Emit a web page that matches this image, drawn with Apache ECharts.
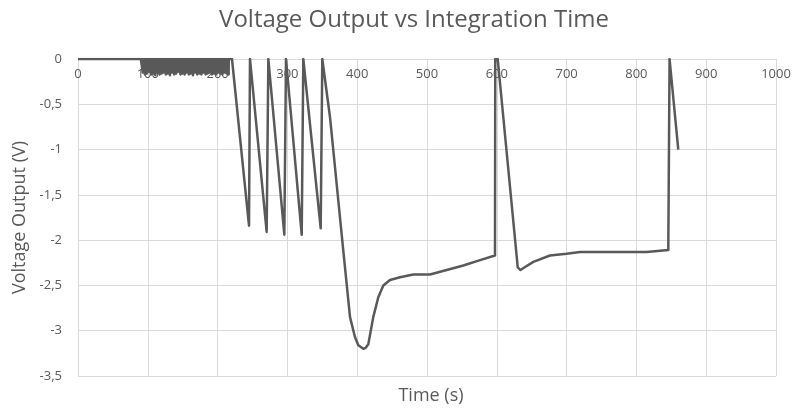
<!DOCTYPE html>
<html>
<head>
<meta charset="utf-8">
<script src="https://cdn.jsdelivr.net/npm/echarts@6/dist/echarts.min.js"></script>
<style>html,body{margin:0;padding:0;background:#fff}#c{width:794px;height:409px}</style>
</head>
<body>
<div id="c"></div>
<script>
var chartTitle = 'Voltage Output vs Integration Time';
var xAxisTitle = 'Time (s)';
var yAxisTitle = 'Voltage Output (V)';
var xTicks = [0, 100, 200, 300, 400, 500, 600, 700, 800, 900, 1000];
var yTicks = [0, -0.5, -1, -1.5, -2, -2.5, -3, -3.5];

var timeSec = [
  0, 90,
  90.2, 92.8, 93, 95.8, 96, 98.8, 99, 101.8, 102, 104.8, 105, 107.8, 108, 110.8,
  111, 113.8, 114, 116.8, 117, 119.8, 120, 122.8, 123, 125.8, 126, 128.8, 129, 131.8,
  132, 134.8, 135, 137.8, 138, 140.8, 141, 143.8, 144, 146.8, 147, 149.8, 150, 152.8,
  153, 155.8, 156, 158.8, 159, 161.8, 162, 164.8, 165, 167.8, 168, 170.8, 171, 173.8,
  174, 176.8, 177, 179.8, 180, 182.8, 183, 185.8, 186, 188.8, 189, 191.8, 192, 194.8,
  195, 197.8, 198, 200.8, 201, 203.8, 204, 206.8, 207, 209.8, 210, 212.8, 213, 215.8, 216,
  220.6, 245, 246.4, 270.3, 272.7, 295.6, 298, 320.5, 322.8, 347.7, 350, 352.5,
  361, 380, 389.7, 396.8, 401.6, 408.8, 412, 415.9, 419, 423, 430.2, 437.4, 447,
  461.3, 480.4, 504.3, 528.2, 552, 576, 597.4, 597.8, 601.3,
  630, 634, 640, 652.3, 676.2, 700, 719.2, 767, 814.7, 845.7, 847.5, 848.5, 860
];
var voltageV = [
  0, 0,
  0, -0.15, 0, -0.17, 0, -0.16, 0, -0.14, 0, -0.17, 0, -0.16, 0, -0.18,
  0, -0.15, 0, -0.17, 0, -0.16, 0, -0.15, 0, -0.17, 0, -0.16, 0, -0.18,
  0, -0.15, 0, -0.17, 0, -0.16, 0, -0.14, 0, -0.17, 0, -0.16, 0, -0.17,
  0, -0.15, 0, -0.17, 0, -0.16, 0, -0.18, 0, -0.15, 0, -0.17, 0, -0.16,
  0, -0.17, 0, -0.15, 0, -0.17, 0, -0.16, 0, -0.15, 0, -0.17, 0, -0.16,
  0, -0.17, 0, -0.15, 0, -0.16, 0, -0.17, 0, -0.15, 0, -0.16, 0, -0.17, 0,
  0, -1.84, 0, -1.91, 0, -1.94, 0, -1.94, 0, -1.87, 0, 0,
  -0.64, -2.11, -2.85, -3.07, -3.16, -3.2, -3.19, -3.15, -3.02, -2.85, -2.63, -2.5, -2.44,
  -2.41, -2.38, -2.38, -2.33, -2.28, -2.22, -2.17, 0, 0,
  -2.3, -2.33, -2.3, -2.24, -2.17, -2.15, -2.13, -2.13, -2.13, -2.11, 0, 0, -1.0
];

var seriesData = timeSec.map(function (t, i) { return [t, voltageV[i]]; });
var FONT = 'Open Sans';
var chart = echarts.init(document.getElementById('c'), null, {renderer: 'canvas'});
chart.setOption({
  animation: false,
  backgroundColor: '#ffffff',
  title: [
    {text: chartTitle, left: 409, textAlign: 'center', top: 3,
     textStyle: {fontFamily: FONT, fontSize: 24, fontWeight: 'normal', color: '#595959'}},
    {text: xAxisTitle, left: 426, textAlign: 'center', top: 382,
     textStyle: {fontFamily: FONT, fontSize: 18, fontWeight: 'normal', color: '#595959'}}
  ],
  grid: {left: 78, right: 18, top: 59, bottom: 33, containLabel: false},
  xAxis: {
    type: 'value', position: 'top', min: xTicks[0], max: xTicks[xTicks.length - 1], interval: 100,
    axisLine: {show: true, onZero: false, lineStyle: {color: '#d9d9d9', width: 1}},
    axisTick: {show: false},
    axisLabel: {inside: true, margin: 9, fontFamily: FONT, fontSize: 13, color: '#595959',
      formatter: function (v) { return String(v); }},
    splitLine: {show: true, lineStyle: {color: '#d9d9d9', width: 1}}
  },
  yAxis: {
    type: 'value', min: yTicks[yTicks.length - 1], max: yTicks[0], interval: 0.5,
    name: yAxisTitle, nameLocation: 'middle', nameGap: 45, nameRotate: 90,
    nameTextStyle: {fontFamily: FONT, fontSize: 18, color: '#595959'},
    axisLine: {show: true, lineStyle: {color: '#d9d9d9'}},
    axisTick: {show: false},
    axisLabel: {margin: 16, fontFamily: FONT, fontSize: 13, color: '#595959',
      formatter: function (v) { return String(v).replace('.', ','); }},
    splitLine: {show: true, lineStyle: {color: '#d9d9d9', width: 1}}
  },
  series: [{
    type: 'line', data: seriesData, showSymbol: false, symbol: 'none',
    lineStyle: {color: '#595959', width: 2.5, join: 'round'},
    clip: true
  }]
});
</script>
</body>
</html>
